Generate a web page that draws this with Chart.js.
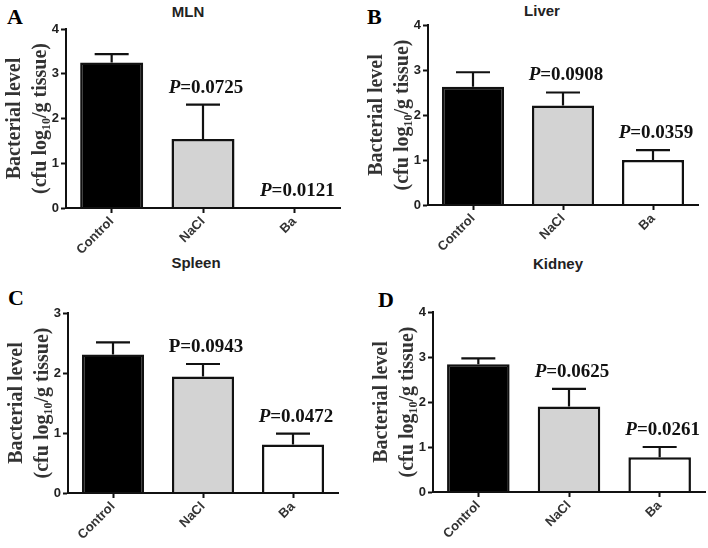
<!DOCTYPE html>
<html>
<head>
<meta charset="utf-8">
<script src="https://cdn.jsdelivr.net/npm/chart.js@4"></script>
<style>
  body { margin: 0; background: #fff; }
  #wrap { position: relative; width: 708px; height: 548px; overflow: hidden; background: #fff; }
  #wrap canvas { position: absolute; }
  .ttl { position: absolute; width: 120px; text-align: center; font: bold 15px "Liberation Sans", Arial, sans-serif; color: #222; line-height: 15px; }
  .let { position: absolute; font: bold 22px "Liberation Serif", "Times New Roman", serif; color: #000; line-height: 22px; }
</style>
</head>
<body>
<div id="wrap">
  <div class="let" style="left:7px;top:6px">A</div>
  <div class="let" style="left:367px;top:6px">B</div>
  <div class="let" style="left:8px;top:287px">C</div>
  <div class="let" style="left:378px;top:289px">D</div>
  <div class="ttl" style="left:128px;top:4px">MLN</div>
  <div class="ttl" style="left:482px;top:3px">Liver</div>
  <div class="ttl" style="left:136px;top:255px">Spleen</div>
  <div class="ttl" style="left:498px;top:256px">Kidney</div>
  <canvas id="cA"></canvas>
  <canvas id="cB"></canvas>
  <canvas id="cC"></canvas>
  <canvas id="cD"></canvas>
</div>
<script>
// datos (media y error estándar, log10 ufc/g)
const categories = ["Control", "NaCl", "Ba"];
const barColors = ["#000000", "#d3d3d3", "#ffffff"];

const mlnMeans = [3.25, 1.54, 0];
const mlnSem = [0.19, 0.77, 0];
const mlnP = ["", "0.0725", "0.0121"];
const mlnPItalic = [true, true, true];

const liverMeans = [2.63, 2.21, 1.0];
const liverSem = [0.32, 0.29, 0.22];
const liverP = ["", "0.0908", "0.0359"];
const liverPItalic = [true, true, true];

const spleenMeans = [2.31, 1.94, 0.81];
const spleenSem = [0.20, 0.21, 0.18];
const spleenP = ["", "0.0943", "0.0472"];
const spleenPItalic = [true, false, true];

const kidneyMeans = [2.84, 1.90, 0.77];
const kidneySem = [0.13, 0.39, 0.23];
const kidneyP = ["", "0.0625", "0.0261"];
const kidneyPItalic = [true, true, true];

const yTitle = ["Bacterial level", "(cfu log\u2081\u2080/g tissue)"];

Chart.defaults.devicePixelRatio = 1;

// barras de error (solo hacia arriba) y valores P
const errorBarsPlugin = {
  id: "errorBars",
  afterDatasetsDraw(chart, args, opts) {
    const ctx = chart.ctx;
    const yScale = chart.scales.y;
    const meta = chart.getDatasetMeta(0);
    const means = chart.data.datasets[0].data;
    meta.data.forEach(function (bar, i) {
      const top = yScale.getPixelForValue(means[i] + opts.sem[i]);
      if (opts.sem[i] > 0) {
        ctx.save();
        ctx.strokeStyle = "#111";
        ctx.lineWidth = 2.2;
        ctx.beginPath();
        ctx.moveTo(bar.x, bar.y);
        ctx.lineTo(bar.x, top);
        ctx.moveTo(bar.x - 17, top);
        ctx.lineTo(bar.x + 17, top);
        ctx.stroke();
        ctx.restore();
      }
      if (opts.p[i]) {
        const fP = (opts.italic[i] ? "italic " : "") + "bold 19px 'Liberation Serif', serif";
        const fN = "bold 19px 'Liberation Serif', serif";
        const rest = "=" + opts.p[i];
        ctx.save();
        ctx.fillStyle = "#111";
        ctx.textBaseline = "middle";
        ctx.textAlign = "left";
        ctx.font = fP;
        const wP = ctx.measureText("P").width;
        ctx.font = fN;
        const wR = ctx.measureText(rest).width;
        const x0 = bar.x + 3 - (wP + wR) / 2;
        const yy = top - 17;
        ctx.font = fP;
        ctx.fillText("P", x0, yy);
        ctx.font = fN;
        ctx.fillText(rest, x0 + wP, yy);
        ctx.restore();
      }
    });
  },
};

function makePanel(id, box, means, sem, pVals, pItalic, yMax) {
  const padTop = 12, yW = 64, xH = 60, padRight = 4;
  const cv = document.getElementById(id);
  cv.width = box.right - box.left + yW + padRight;
  cv.height = box.bottom - box.top + padTop + xH;
  cv.style.left = (box.left - yW) + "px";
  cv.style.top = (box.top - padTop) + "px";
  return new Chart(cv.getContext("2d"), {
    type: "bar",
    data: {
      labels: categories,
      datasets: [
        {
          data: means,
          backgroundColor: barColors,
          borderColor: "#111",
          borderWidth: function (c) { return c.raw === 0 ? 0 : 2.5; },
          borderSkipped: "start",
          barPercentage: 0.69,
          categoryPercentage: 1,
        },
      ],
    },
    options: {
      responsive: false,
      animation: false,
      layout: { padding: { top: padTop, right: padRight, left: 0, bottom: 0 } },
      plugins: {
        legend: { display: false },
        tooltip: { enabled: false },
        errorBars: { sem: sem, p: pVals, italic: pItalic },
      },
      scales: {
        x: {
          afterFit: function (s) { s.height = xH; },
          grid: { offset: false, drawOnChartArea: false, tickLength: 5, tickWidth: 2, tickColor: "#111" },
          border: { color: "#111", width: 2, z: 1 },
          ticks: {
            autoSkip: false,
            minRotation: 45,
            maxRotation: 45,
            padding: 1,
            color: "#333",
            font: { family: "'Liberation Sans', Arial, sans-serif", weight: "bold", size: 13 },
          },
        },
        y: {
          min: 0,
          max: yMax,
          afterFit: function (s) { s.width = yW; },
          grid: { drawOnChartArea: false, tickLength: 5, tickWidth: 2, tickColor: "#111" },
          border: { color: "#111", width: 2 },
          ticks: {
            stepSize: 1,
            padding: 2,
            color: "#222",
            font: { family: "'Liberation Sans', Arial, sans-serif", weight: "bold", size: 13 },
          },
          title: {
            display: true,
            text: yTitle,
            color: "#333",
            padding: { top: 0, bottom: 0 },
            font: { family: "'Liberation Serif', 'Times New Roman', serif", weight: "bold", size: 20, lineHeight: 1.3 },
          },
        },
      },
    },
    plugins: [errorBarsPlugin],
  });
}

makePanel("cA", { left: 66, right: 340, top: 29, bottom: 208 }, mlnMeans, mlnSem, mlnP, mlnPItalic, 4);
makePanel("cB", { left: 428, right: 698, top: 25, bottom: 205 }, liverMeans, liverSem, liverP, liverPItalic, 4);
makePanel("cC", { left: 68, right: 338, top: 313, bottom: 493 }, spleenMeans, spleenSem, spleenP, spleenPItalic, 3);
makePanel("cD", { left: 433, right: 705, top: 312, bottom: 492 }, kidneyMeans, kidneySem, kidneyP, kidneyPItalic, 4);
</script>
</body>
</html>
